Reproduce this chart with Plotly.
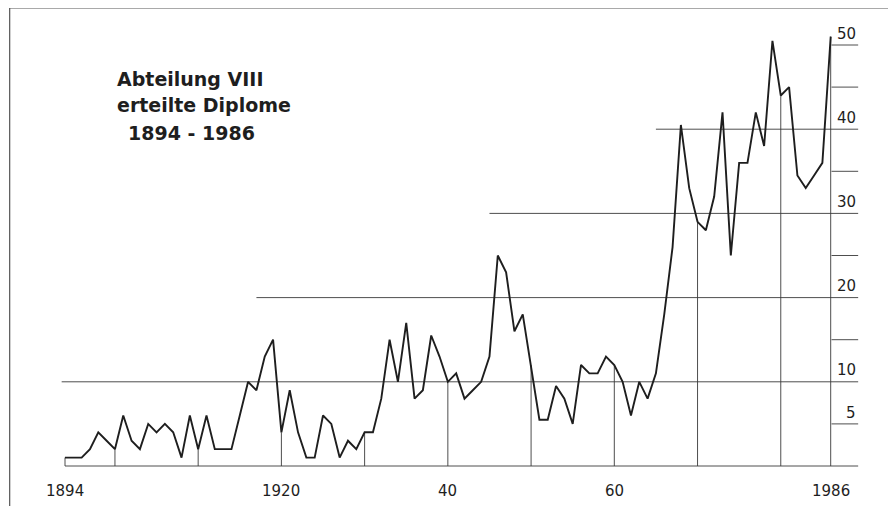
import plotly.graph_objects as go

# ---- data ----
years = list(range(1894, 1987))
diplome = [
    1, 1, 1, 2, 4, 3, 2, 6, 3, 2,          # 1894-1903
    5, 4, 5, 4, 1, 6, 2, 6, 2, 2,          # 1904-1913
    2, 6, 10, 9, 13, 15, 4, 9, 4, 1,       # 1914-1923
    1, 6, 5, 1, 3, 2, 4, 4, 8, 15,         # 1924-1933
    10, 17, 8, 9, 15.5, 13, 10, 11, 8, 9,  # 1934-1943
    10, 13, 25, 23, 16, 18, 12, 5.5, 5.5, 9.5,  # 1944-1953
    8, 5, 12, 11, 11, 13, 12, 10, 6, 10,   # 1954-1963
    8, 11, 18, 26, 40.5, 33, 29, 28, 32, 42,    # 1964-1973
    25, 36, 36, 42, 38, 50.5, 44, 45, 34.5, 33,  # 1974-1983
    34.5, 36, 51,                          # 1984-1986
]
assert len(years) == len(diplome)

marker_years = [1894, 1900, 1910, 1920, 1930, 1940, 1950, 1960, 1970, 1980, 1986]
grid_levels = [0, 10, 20, 30, 40]
grid_start_years = [1894, 1893.6, 1917, 1945, 1965]
tick_levels = [5, 15, 25, 35, 45, 50]
y_label_values = [5, 10, 20, 30, 40, 50]
x_label_years = [1894, 1920, 1940, 1960, 1986]
x_label_texts = ["1894", "1920", "40", "60", "1986"]
title_lines = ["Abteilung VIII", "erteilte Diplome", "1894 - 1986"]

# ---- styling / geometry ----
GRID_END = 1989.3
TICK_START = 1986.1
INK = "#1e1e1e"
THIN = "#3a3a3a"
LABEL_FONT = dict(family="DejaVu Sans", size=15, color=INK)

fig = go.Figure()

# horizontal reference lines
gx, gy = [], []
for lvl, start in zip(grid_levels, grid_start_years):
    gx += [start, GRID_END, None]
    gy += [lvl, lvl, None]
for lvl in tick_levels:
    gx += [TICK_START, GRID_END, None]
    gy += [lvl, lvl, None]
fig.add_trace(go.Scatter(x=gx, y=gy, mode="lines",
                         line=dict(color=THIN, width=0.9),
                         hoverinfo="skip", showlegend=False))

# vertical drop lines from baseline to the curve
vx, vy = [], []
for yr in marker_years:
    v = diplome[years.index(yr)]
    vx += [yr, yr, None]
    vy += [0, v, None]
fig.add_trace(go.Scatter(x=vx, y=vy, mode="lines",
                         line=dict(color=THIN, width=0.9),
                         hoverinfo="skip", showlegend=False))

# main curve
fig.add_trace(go.Scatter(x=years, y=diplome, mode="lines",
                         line=dict(color=INK, width=1.9),
                         showlegend=False))

ann = []
for v in y_label_values:
    ann.append(dict(x=1989.3, y=v + 1.35, xref="x", yref="y", text=str(v),
                    showarrow=False, xanchor="right", yanchor="middle",
                    font=LABEL_FONT))
for yr, t in zip(x_label_years, x_label_texts):
    ann.append(dict(x=yr, y=-2.95, xref="x", yref="y", text=t,
                    showarrow=False, xanchor="center", yanchor="middle",
                    font=LABEL_FONT))

title_pos = [(1900.0, 46.0), (1900.0, 42.9), (1901.3, 39.6)]
for t, (tx, ty) in zip(title_lines, title_pos):
    ann.append(dict(x=tx, y=ty, xref="x", yref="y", text=t,
                    showarrow=False, xanchor="left", yanchor="middle",
                    font=dict(family="DejaVu Sans", size=19, color=INK, weight="bold")))

# page frame (scanned page edge)
shapes = [
    dict(type="line", xref="paper", yref="paper", x0=-0.012, x1=1.03, y0=1.025, y1=1.025,
         line=dict(color="#555", width=1.2)),
    dict(type="line", xref="paper", yref="paper", x0=-0.012, x1=-0.012, y0=-0.03, y1=1.025,
         line=dict(color="#555", width=1.2)),
]

# the page body adds an 8 px offset; margins compensate so the plot area
# spans viewport pixels x 20..880 and y 20..500
fig.update_layout(
    width=896, height=506,
    margin=dict(l=12, r=24, t=12, b=14),
    paper_bgcolor="white", plot_bgcolor="white",
    xaxis=dict(range=[1888.593, 1991.923], visible=False, fixedrange=True),
    yaxis=dict(range=[-4.038, 52.969], visible=False, fixedrange=True),
    annotations=ann,
    shapes=shapes,
    showlegend=False,
)

fig.write_html("out.html")
